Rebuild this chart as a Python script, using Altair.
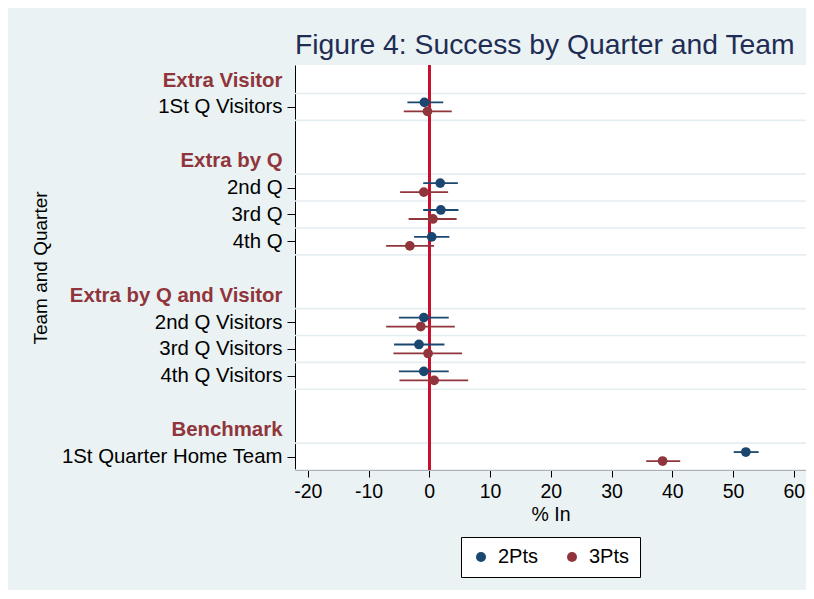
import altair as alt
import pandas as pd

# ---- data ----
row_labels = ["Extra Visitor", "1St Q Visitors", "", "Extra by Q", "2nd Q", "3rd Q", "4th Q", "",
              "Extra by Q and Visitor", "2nd Q Visitors", "3rd Q Visitors", "4th Q Visitors", "",
              "Benchmark", "1St Quarter Home Team"]
header_slots = [0, 3, 8, 13]
item_slots = [1, 4, 5, 6, 9, 10, 11, 14]

series = ["2Pts", "3Pts"]
est_2pts = [-0.8, 1.8, 1.9, 0.4, -0.9, -1.7, -0.9, 52.1]
lo_2pts = [-3.6, -1.0, -1.0, -2.5, -5.0, -5.8, -5.0, 50.1]
hi_2pts = [2.3, 4.7, 4.8, 3.3, 3.2, 2.5, 3.2, 54.2]
est_3pts = [-0.3, -0.9, 0.6, -3.2, -1.4, -0.2, 0.8, 38.4]
lo_3pts = [-4.2, -4.8, -3.4, -7.1, -7.1, -5.9, -4.9, 35.7]
hi_3pts = [3.7, 3.1, 4.5, 0.8, 4.2, 5.4, 6.4, 41.3]

x_ticks = [-20, -10, 0, 10, 20, 30, 40, 50, 60]

NAVY = "#1a476f"
MAROON = "#90353b"
BG = "#eaf2f3"
FONT = "Liberation Sans"

rows = []
for s, shift, est, lo, hi in [("2Pts", -0.167, est_2pts, lo_2pts, hi_2pts),
                              ("3Pts", 0.167, est_3pts, lo_3pts, hi_3pts)]:
    for slot, e, l, h in zip(item_slots, est, lo, hi):
        rows.append({"series": s, "slot": slot, "ypos": slot + shift, "est": e, "lo": l, "hi": h})
df = pd.DataFrame(rows)

grid = pd.DataFrame({"g": sorted(set([s - 0.5 for s in item_slots] + [s + 0.5 for s in item_slots]))})

ydom = [-0.558, 14.5]
yscale = alt.Scale(domain=ydom, reverse=True, nice=False, zero=False)
xscale = alt.Scale(domain=[-22.1, 62.0], nice=False, zero=False)
color_scale = alt.Scale(domain=series, range=[NAVY, MAROON])

label_arr = "[" + ",".join("'" + t + "'" for t in row_labels) + "]"
head_test = "indexof([" + ",".join(str(h) for h in header_slots) + "], datum.value) >= 0"

yaxis = alt.Axis(
    values=sorted(header_slots + item_slots),
    labelExpr=label_arr + "[datum.value]",
    labelColor={"condition": {"test": head_test, "value": MAROON}, "value": "#000000"},
    labelFontWeight={"condition": {"test": head_test, "value": "bold"}, "value": "normal"},
    tickOpacity={"condition": {"test": head_test, "value": 0}, "value": 1},
    title="Team and Quarter",
    titleX=-255, titleY=202.5, titleAlign="center", titleBaseline="middle", titleAngle=270,
    grid=False, domainColor="#000000", tickColor="#000000", tickSize=8, labelPadding=5,
    labelFont=FONT, labelFontSize=20.4, titleFont=FONT, titleFontSize=19, titleFontWeight="normal",
    titleColor="#000000", labelOverlap=False, labelBound=False, labelFlush=False, labelLimit=400,
)

xaxis = alt.Axis(
    values=x_ticks, title="% In", grid=False, domainColor="#000000", tickColor="#000000",
    tickSize=7, labelPadding=5, titlePadding=5, labelFont=FONT, labelFontSize=19.5,
    labelExpr="datum.value + ''",
    labelColor="#000000", titleFont=FONT, titleFontSize=19.5, titleFontWeight="normal",
    titleColor="#000000", labelFlush=False,
)

base = alt.Chart(df)

gridlines = alt.Chart(grid).mark_rule(color="#e4edf0", strokeWidth=1.6).encode(
    y=alt.Y("g:Q", scale=yscale, axis=yaxis)
)

zero = alt.Chart(grid).mark_rule(color="#c8102e", strokeWidth=2).encode(
    x=alt.datum(0, scale=xscale, axis=xaxis)
)

bars = base.mark_rule(strokeWidth=1.8).encode(
    x=alt.X("lo:Q", scale=xscale, axis=xaxis),
    x2="hi:Q",
    y=alt.Y("ypos:Q", scale=yscale, axis=yaxis),
    color=alt.Color("series:N", scale=color_scale, legend=None),
)

points = base.mark_circle(size=95, opacity=1).encode(
    x=alt.X("est:Q", scale=xscale, axis=xaxis),
    y=alt.Y("ypos:Q", scale=yscale, axis=yaxis),
    color=alt.Color(
        "series:N", scale=color_scale,
        legend=alt.Legend(
            title=None, orient="none", legendX=166, legendY=472, direction="horizontal",
            fillColor="#ffffff", strokeColor="#000000", padding=10,
            symbolType="circle", symbolSize=100, symbolStrokeWidth=0, labelFont=FONT,
            labelFontSize=20, labelColor="#000000", labelOffset=7, columnPadding=23,
        ),
    ),
)

chart = alt.layer(gridlines, zero, bars, points).resolve_legend(color="independent").properties(
    width=511, height=405,
    title=alt.TitleParams("Figure 4: Success by Quarter and Team", anchor="start", frame="group",
                          font=FONT, fontSize=28.3, fontWeight="normal", color="#1f2d55", offset=4),
    background=BG,
    padding={"left": 287, "top": 57, "right": 0, "bottom": 120},
    autosize=alt.AutoSizeParams(type="none"),
).configure_view(stroke=None, fill="#ffffff").configure_legend(strokeWidth=1, cornerRadius=0)

chart.save("out.html", embed_options={"renderer": "svg", "actions": False})
